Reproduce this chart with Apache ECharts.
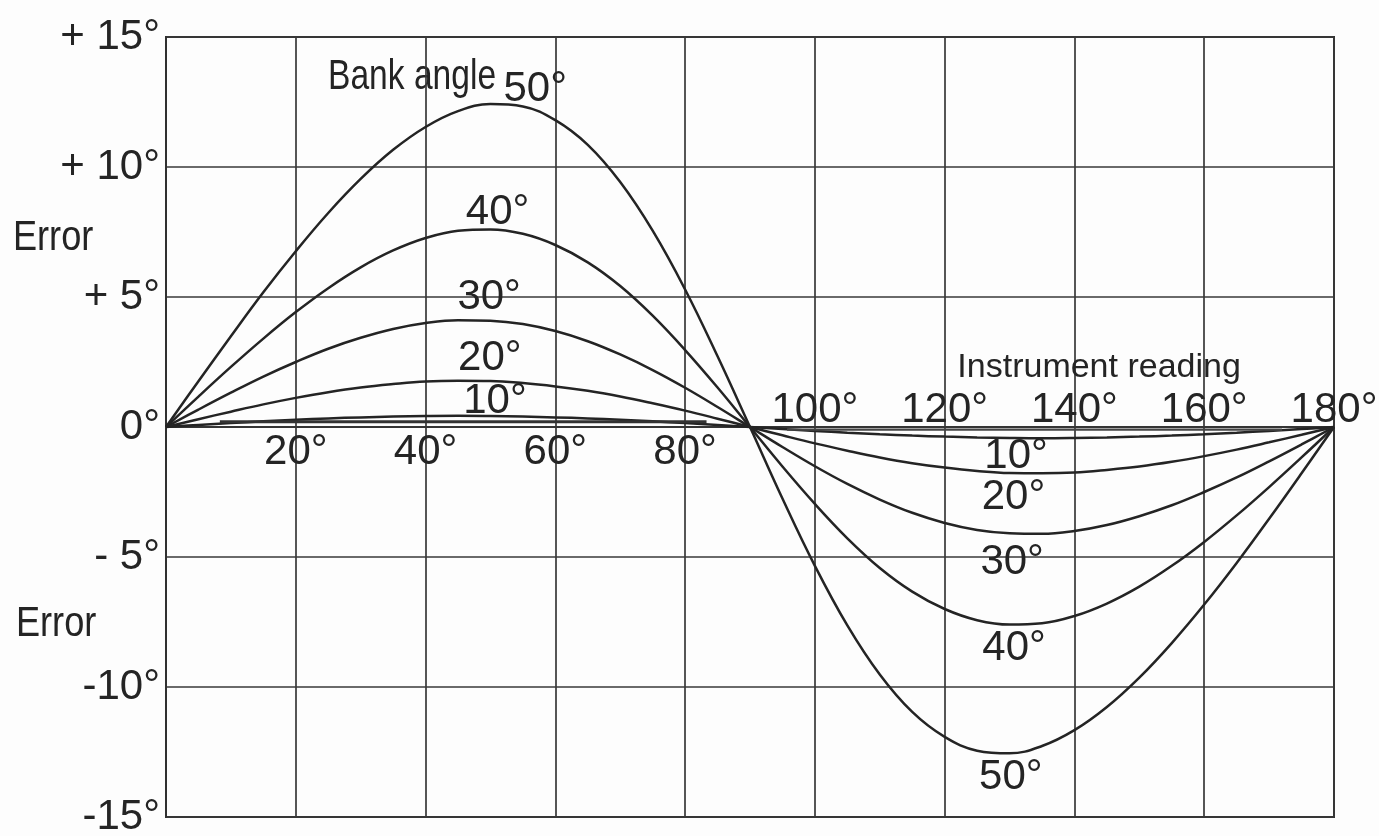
<!DOCTYPE html>
<html>
<head>
<meta charset="utf-8">
<script src="https://cdn.jsdelivr.net/npm/echarts@6/dist/echarts.min.js"></script>
<style>
html,body{margin:0;padding:0;background:#fdfdfd;}
#chart{width:1379px;height:836px;}
</style>
</head>
<body>
<div id="chart"></div>
<script>
// Instrument reading (degrees)
const readings = [0,5,10,15,20,25,30,35,40,45,50,55,60,65,70,75,80,85,90,
                  95,100,105,110,115,120,125,130,135,140,145,150,155,160,165,170,175,180];
// Error (degrees) for each bank angle
const bank10 = [0,0.08,0.15,0.22,0.28,0.33,0.37,0.40,0.42,0.43,0.42,0.40,0.37,0.33,0.28,0.22,0.15,0.08,0,
                -0.08,-0.15,-0.22,-0.28,-0.33,-0.37,-0.40,-0.42,-0.43,-0.42,-0.40,-0.37,-0.33,-0.28,-0.22,-0.15,-0.08,0];
const bank20 = [0,0.30,0.59,0.87,1.12,1.34,1.52,1.65,1.75,1.78,1.77,1.69,1.56,1.39,1.17,0.91,0.63,0.32,0,
                -0.32,-0.63,-0.91,-1.17,-1.39,-1.56,-1.69,-1.77,-1.78,-1.75,-1.65,-1.52,-1.34,-1.12,-0.87,-0.59,-0.30,0];
const bank30 = [0,0.67,1.32,1.94,2.50,3.01,3.43,3.77,4.00,4.11,4.09,3.96,3.69,3.30,2.79,2.19,1.51,0.77,0,
                -0.77,-1.51,-2.19,-2.79,-3.30,-3.69,-3.96,-4.09,-4.11,-4.00,-3.77,-3.43,-3.01,-2.50,-1.94,-1.32,-0.67,0];
const bank40 = [0,1.17,2.31,3.40,4.42,5.34,6.14,6.79,7.27,7.55,7.60,7.43,7.00,6.33,5.42,4.28,2.96,1.52,0,
                -1.52,-2.96,-4.28,-5.42,-6.33,-7.00,-7.43,-7.60,-7.55,-7.27,-6.79,-6.14,-5.34,-4.42,-3.40,-2.31,-1.17,0];
const bank50 = [0,1.76,3.49,5.18,6.76,8.23,9.54,10.66,11.54,12.15,12.42,12.33,11.80,10.85,9.42,7.55,5.29,2.72,0,
                -2.75,-5.34,-7.63,-9.52,-10.96,-11.92,-12.45,-12.55,-12.27,-11.66,-10.77,-9.64,-8.31,-6.83,-5.23,-3.53,-1.78,0];
// near-zero ruled segments
const baseLeftX = [8.3, 83.3];
const baseLeftY = [0.2, 0.2];
const baseRightX = [95.7, 172];
const baseRightY = [-0.1, -0.1];

// tick labels
const yTickLabels = {'-15':'-15°','-10':'-10°','-5':'- 5°','0':'0°','5':'+ 5°','10':'+ 10°','15':'+ 15°'};
const xLowerLabels = {'20':'20°','40':'40°','60':'60°','80':'80°'};
const xUpperLabels = {'100':'100°','120':'120°','140':'140°','160':'160°','180':'180°'};

// curve labels: [reading, error, text]
const curveLabels = {
  b10: [[50.7, 1.0, '10°'], [131.0, -1.12, '10°']],
  b20: [[49.9, 2.62, '20°'], [130.6, -2.69, '20°']],
  b30: [[49.8, 5.0, '30°'], [130.4, -5.19, '30°']],
  b40: [[51.1, 8.27, '40°'], [130.7, -8.5, '40°']],
  b50: [[56.9, 13.0, '50°'], [130.2, -13.46, '50°']]
};
const xName = [[143.8, 2.3, 'Instrument reading']];

const FONT = '"Liberation Sans", Arial, sans-serif';
const INK = '#242424';

function pairs(xs, ys){ return xs.map((x,i)=>[x, ys[i]]); }

function labelPoints(list, size){
  return {
    symbol: 'circle', symbolSize: 0, silent: true, animation: false,
    data: list.map(l => ({
      coord: [l[0], l[1]], value: l[2],
      label: {show: true, position: 'inside', formatter: l[2], color: INK,
              fontSize: size || 42, fontFamily: FONT}
    }))
  };
}

function curve(name, vals, labels){
  return {
    name, type: 'line', xAxisIndex: 0, yAxisIndex: 0,
    data: pairs(readings, vals), showSymbol: false, smooth: 0.4,
    lineStyle: {color: INK, width: 2.5}, silent: true,
    markPoint: labelPoints(labels)
  };
}

const GRID = {left: 166, top: 37, width: 1168, height: 780};

const chart = echarts.init(document.getElementById('chart'), null, {renderer: 'canvas'});
chart.setOption({
  animation: false,
  backgroundColor: '#fdfdfd',
  grid: Object.assign({show: true, containLabel: false, outerBoundsMode: 'none',
         borderColor: '#303030', borderWidth: 2, backgroundColor: 'transparent'}, GRID),
  xAxis: [
    {type: 'value', min: 0, max: 180, interval: 20, position: 'bottom', offset: -GRID.height / 2,
     axisLine: {show: true, onZero: false, lineStyle: {color: '#353535', width: 1.8}},
     axisTick: {show: false},
     axisLabel: {formatter: v => xLowerLabels[String(v)] || '', margin: 4,
                 color: INK, fontSize: 42, fontFamily: FONT, showMinLabel: true, showMaxLabel: true},
     splitLine: {show: true, lineStyle: {color: '#383838', width: 1.7}}},
    {type: 'value', min: 0, max: 180, interval: 20, position: 'top', offset: -GRID.height / 2,
     axisLine: {show: false, onZero: false},
     axisTick: {show: false},
     axisLabel: {formatter: v => xUpperLabels[String(v)] || '', margin: -4,
                 color: INK, fontSize: 42, fontFamily: FONT, showMinLabel: true, showMaxLabel: true},
     splitLine: {show: false}}
  ],
  yAxis: {type: 'value', min: -15, max: 15, interval: 5,
    axisLine: {show: true, onZero: false, lineStyle: {color: '#303030', width: 2}},
    axisTick: {show: false},
    axisLabel: {formatter: v => yTickLabels[String(v)] || '', margin: 6,
                color: INK, fontSize: 42, fontFamily: FONT},
    splitLine: {show: true, lineStyle: {color: '#383838', width: 1.7}}},
  graphic: [
    {type: 'text', x: 13, y: 238, scaleX: 0.86, silent: true,
     style: {text: 'Error', font: '42px ' + FONT, fill: INK, verticalAlign: 'middle', textVerticalAlign: 'middle'}},
    {type: 'text', x: 16, y: 624, scaleX: 0.86, silent: true,
     style: {text: 'Error', font: '42px ' + FONT, fill: INK, verticalAlign: 'middle', textVerticalAlign: 'middle'}},
    {type: 'text', x: 328, y: 77, scaleX: 0.8, silent: true,
     style: {text: 'Bank angle', font: '42px ' + FONT, fill: INK, verticalAlign: 'middle', textVerticalAlign: 'middle'}}
  ],
  series: [
    curve('10°', bank10, curveLabels.b10),
    curve('20°', bank20, curveLabels.b20),
    curve('30°', bank30, curveLabels.b30),
    curve('40°', bank40, curveLabels.b40),
    curve('50°', bank50, curveLabels.b50),
    {name: 'base-left', type: 'line', data: pairs(baseLeftX, baseLeftY), showSymbol: false,
     lineStyle: {color: '#333', width: 3}, silent: true},
    {name: 'base-right', type: 'line', data: pairs(baseRightX, baseRightY), showSymbol: false,
     lineStyle: {color: '#444', width: 2.2}, silent: true,
     markPoint: labelPoints(xName, 34)}
  ]
});
</script>
</body>
</html>
